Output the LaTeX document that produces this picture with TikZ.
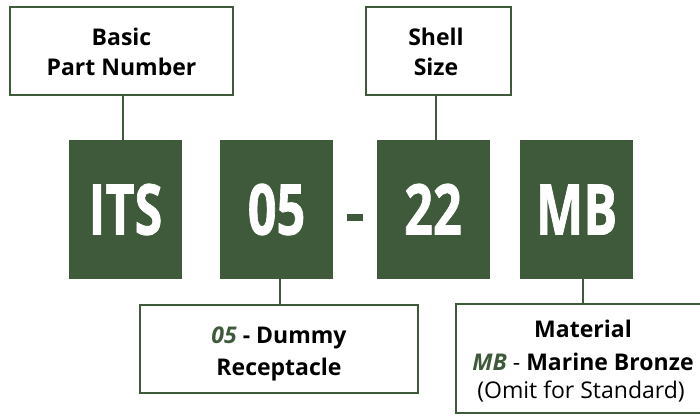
\documentclass[tikz,border=0pt]{standalone}
\usepackage{fontspec}
\setmainfont{Open Sans}
\newfontfamily\codefont[FakeBold=1.3]{Open Sans}
\definecolor{dgreen}{HTML}{3F5A3B}
\begin{document}
\begin{tikzpicture}[x=1pt,y=-1pt,
  lbl/.style={draw=dgreen,line width=2.6pt,fill=white,inner sep=0pt},
  code/.style={fill=dgreen,inner sep=0pt,minimum width=113pt,minimum height=139pt,
     text=white,font=\fontsize{70}{70}\codefont\bfseries,text height=50pt,text depth=0pt},
  conn/.style={draw=dgreen,line width=2.2pt},
  txt/.style={anchor=base,inner sep=0pt,font=\fontsize{23}{23}\selectfont},
  btxt/.style={txt,font=\fontsize{23}{23}\selectfont\bfseries}]
\useasboundingbox (0,0) rectangle (700,415);
\begin{scope}
\clip (0,0) rectangle (700,415);
% label boxes
\node[lbl,minimum width=223pt,minimum height=88pt] (bpn) at (121.5,51) {};
\node[lbl,minimum width=145pt,minimum height=88pt] (ss) at (438.5,51) {};
\node[lbl,minimum width=278pt,minimum height=88pt] (dum) at (279,349) {};
\node[lbl,minimum width=270pt,minimum height=109pt] (mat) at (591,358.5) {};
% code boxes
\node[code] (its) at (125.5,209.5) {\scalebox{0.72}[1]{ITS}};
\node[code] (c05) at (276.5,209.5) {\scalebox{0.72}[1]{05}};
\node[code] (c22) at (433,209.5) {\scalebox{0.72}[1]{22}};
\node[code] (cmb) at (576.5,209.5) {\scalebox{0.72}[1]{MB}};
\node[fill=dgreen,minimum width=16pt,minimum height=7pt,inner sep=0pt] (dash) at (355,217.5) {};
% connectors
\draw[conn] (bpn.south -| 123,0) -- (123,0 |- its.north);
\draw[conn] (ss.south -| 436,0) -- (436,0 |- c22.north);
\draw[conn] (280,0 |- c05.south) -- (280,0 |- dum.north);
\draw[conn] (583,0 |- cmb.south) -- (583,0 |- mat.north);
% texts
\node[btxt] (t1) at (121.5,45) {Basic};
\node[btxt] (t2) at (121.5,75) {Part Number};
\node[btxt] (t3) at (436,45) {Shell};
\node[btxt] (t4) at (436,75) {Size};
\node[btxt] (t5) at (279,343) {\textcolor{dgreen}{\textit{05}} - Dummy};
\node[btxt] (t6) at (279,375) {Receptacle};
\node[btxt] (t7) at (583,337) {Material};
\node[txt] (t8) at (583,370) {\textbf{\textcolor{dgreen}{\textit{MB}}} - \textbf{Marine Bronze}};
\node[txt] (t9) at (581,398) {(Omit for Standard)};
\end{scope}
\end{tikzpicture}
\end{document}
